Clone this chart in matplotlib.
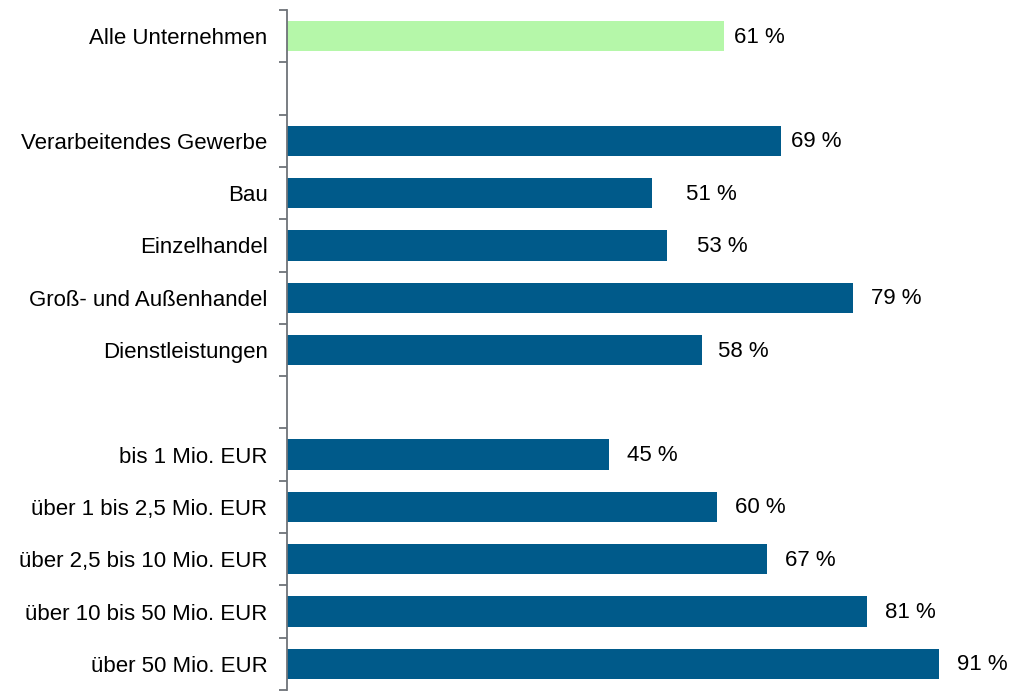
import matplotlib
matplotlib.use('Agg')
import matplotlib.pyplot as plt
import numpy as np

# data, top to bottom; None = empty spacer row
categories = [
    "Alle Unternehmen", None,
    "Verarbeitendes Gewerbe", "Bau", "Einzelhandel",
    "Groß- und Außenhandel", "Dienstleistungen", None,
    "bis 1 Mio. EUR", "über 1 bis 2,5 Mio. EUR", "über 2,5 bis 10 Mio. EUR",
    "über 10 bis 50 Mio. EUR", "über 50 Mio. EUR",
]
values = [61, None, 69, 51, 53, 79, 58, None, 45, 60, 67, 81, 91]

GREEN = "#b5f7a9"
BLUE = "#005a8a"
AXIS = "#6e7378"
# gap between bar end and value label, in pixels
label_pad = [10, 0, 10, 34, 30, 18, 16, 0, 18, 18, 18, 18, 18]

plt.rcParams['font.family'] = ['Liberation Sans', 'DejaVu Sans']

W, H = 1011, 692
fig = plt.figure(figsize=(W / 100, H / 100), dpi=100)
ax = fig.add_axes([287 / W, 2 / H, (W - 287) / W, 680 / H])

n = len(categories)
ypos = np.arange(n)
for i, (cat, v) in enumerate(zip(categories, values)):
    if v is None:
        continue
    color = GREEN if i == 0 else BLUE
    ax.barh(i, v, height=0.58, color=color, edgecolor='none')
    ax.annotate(f"{v} %", xy=(v, i), xytext=(label_pad[i], -1),
                textcoords='offset pixels', va='center', ha='left',
                fontsize=16, color='black')

ax.set_xlim(0, (W - 288) / 7.153)
ax.set_ylim(n - 0.5, -0.5)

ax.set_yticks(np.arange(n + 1) - 0.5)
ax.set_yticklabels([])
ax.tick_params(axis='y', which='major', length=6, width=1.3, color=AXIS, direction='out')
ax.set_yticks(ypos, minor=True)
ax.set_yticklabels([c if c else "" for c in categories], minor=True)
ax.tick_params(axis='y', which='minor', length=0, pad=14, labelsize=16)

ax.set_xticks([])
for s in ['top', 'right', 'bottom']:
    ax.spines[s].set_visible(False)
ax.spines['left'].set_color(AXIS)
ax.spines['left'].set_linewidth(1.3)

fig.savefig("out.png", dpi=100, facecolor='white')
